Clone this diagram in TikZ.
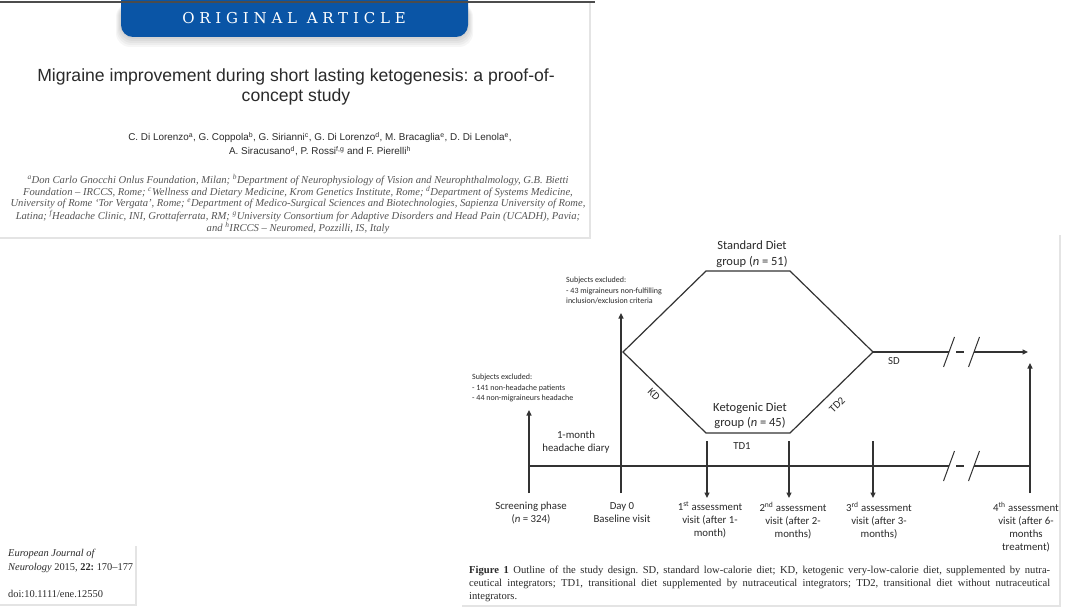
\documentclass[tikz,border=0pt]{standalone}
\usepackage{fontspec}
\setmainfont{Liberation Serif}
\newfontfamily\arialfont{Liberation Sans}
\newfontfamily\calibrifont{Carlito}
\newfontfamily\bannerfont[LetterSpace=32]{DejaVu Serif}
\usetikzlibrary{arrows.meta}
\definecolor{bannerblue}{HTML}{0A55A6}
\definecolor{linegray}{HTML}{333333}
\definecolor{framegray}{HTML}{E4E4E4}
\definecolor{textgray}{HTML}{2A2A2A}
\definecolor{affilgray}{HTML}{555555}
\frenchspacing

\begin{document}
\begin{tikzpicture}[
    x=1pt, y=-1pt,
    line/.style={draw=linegray, line width=1.2pt},
    arr/.style={line, -{Triangle[length=5.5pt, width=5pt]}},
    slash/.style={draw=linegray, line width=1pt},
    lbl/.style={font=\calibrifont\fontsize{10.8}{13}\selectfont, text=textgray, align=center, inner sep=0pt},
    grp/.style={font=\calibrifont\fontsize{12.5}{15.5}\selectfont, text=textgray, align=center, inner sep=0pt},
    excl/.style={font=\calibrifont\fontsize{8}{10.5}\selectfont, text=textgray, align=left, inner sep=0pt, anchor=north west},
    affil/.style={font=\itshape\fontsize{10.6}{12}\selectfont, text=affilgray, inner sep=0pt},
    journal/.style={font=\fontsize{10.4}{12}\selectfont, text=textgray, inner sep=0pt, anchor=base west}
]
    % 画布
    \useasboundingbox (0,0) rectangle (1084,610);
    \fill[white] (0,0) rectangle (1084,610);

    % 1. 文章标题区
    \foreach \s in {2,4,6,8,10}
        \fill[black, opacity=0.035, rounded corners=14pt] (121-\s/2,3) rectangle (468+\s/2,37+\s);
    \fill[bannerblue, rounded corners=12pt] (121,-20) rectangle (468,37);
    \node[font=\bannerfont\fontsize{15}{15}\selectfont, text=white, inner sep=0pt] (banner) at (294,18) {ORIGINAL ARTICLE};
    \draw[gray!60!black, line width=1.5pt] (0,2) -- (595,2);
    \draw[framegray, line width=1.5pt] (0,238) -- (590,238) -- (590,3);

    \node[font=\arialfont\fontsize{17.6}{19.5}\selectfont, text=textgray, align=center, inner sep=0pt] (title) at (296,87)
        {Migraine improvement during short lasting ketogenesis: a proof-of-\\concept study};
    \node[font=\arialfont\fontsize{9.9}{14}\selectfont, text=textgray, align=center, inner sep=0pt] (authors) at (320,144)
        {C. Di Lorenzo\textsuperscript{a}, G. Coppola\textsuperscript{b}, G. Sirianni\textsuperscript{c}, G. Di Lorenzo\textsuperscript{d}, M. Bracaglia\textsuperscript{e}, D. Di Lenola\textsuperscript{e},\\
         A. Siracusano\textsuperscript{d}, P. Rossi\textsuperscript{f,g} and F. Pierelli\textsuperscript{h}};

    \node[affil] (affilA) at (298,180) {\textsuperscript{a}Don Carlo Gnocchi Onlus Foundation, Milan; \textsuperscript{b}Department of Neurophysiology of Vision and Neurophthalmology, G.B. Bietti};
    \node[affil] (affilB) at (298,192) {Foundation -- IRCCS, Rome; \textsuperscript{c}Wellness and Dietary Medicine, Krom Genetics Institute, Rome; \textsuperscript{d}Department of Systems Medicine,};
    \node[affil] (affilC) at (298,204) {University of Rome `Tor Vergata', Rome; \textsuperscript{e}Department of Medico-Surgical Sciences and Biotechnologies, Sapienza University of Rome,};
    \node[affil] (affilD) at (298,216) {Latina; \textsuperscript{f}Headache Clinic, INI, Grottaferrata, RM; \textsuperscript{g}University Consortium for Adaptive Disorders and Head Pain (UCADH), Pavia;};
    \node[affil] (affilE) at (298,228) {and \textsuperscript{h}IRCCS -- Neuromed, Pozzilli, IS, Italy};

    % 2. 期刊信息框
    \draw[framegray, line width=1.5pt] (0,605) -- (136,605) -- (136,546);
    \node[journal] (journalA) at (8,556) {\textit{European Journal of}};
    \node[journal] (journalB) at (8,570) {\textit{Neurology} 2015, \textbf{22:} 170--177};
    \node[journal] (doi) at (8,597) {doi:10.1111/ene.12550};

    % 3. 图框
    \draw[framegray, line width=2pt] (462,606) -- (1060,606) -- (1060,235);

    % 六边形顶点
    \coordinate (L)  at (623,352);
    \coordinate (TL) at (706,271);
    \coordinate (TR) at (790,271);
    \coordinate (R)  at (873,352);
    \coordinate (BR) at (790,433);
    \coordinate (BL) at (706,433);
    \draw[line] (L) -- (TL) -- (TR) -- (R) -- (BR) -- (BL) -- cycle;

    \node[grp] (stdgroup) at (752,254) {Standard Diet\\group (\textit{n} = 51)};
    \node[grp] (ketogroup) at (750,416) {Ketogenic Diet\\group (\textit{n} = 45)};
    \node[lbl] (tdone) at (742,446) {TD1};
    \node[lbl, rotate=-45] (kd) at (654,394) {KD};
    \node[lbl, rotate=45] (tdtwo) at (837,405) {TD2};
    \node[lbl] (sd) at (894,361) {SD};

    % SD 箭头 (带断裂)
    \coordinate (sdbreakA) at (949,352);
    \coordinate (sdbreakB) at (974,352);
    \coordinate (sdend) at (1028,352);
    \draw[line] (R) -- (sdbreakA);
    \draw[line, dash pattern=on 0pt off 7pt on 8pt off 10pt] (sdbreakA) -- (sdbreakB);
    \draw[arr] (sdbreakB) -- (sdend);

    % 时间轴 (带断裂)
    \coordinate (tlstart) at (529,466);
    \coordinate (tlbreakA) at (949,466);
    \coordinate (tlbreakB) at (974,466);
    \coordinate (tlend) at (1030,466);
    \draw[line] (tlstart) -- (tlbreakA);
    \draw[line, dash pattern=on 0pt off 7pt on 8pt off 10pt] (tlbreakA) -- (tlbreakB);
    \draw[line] (tlbreakB) -- (tlend);

    % 断裂斜线
    \foreach \b in {sdbreakA, sdbreakB, tlbreakA, tlbreakB}
        \draw[slash] ([shift={(-5.5,15)}]\b) -- ([shift={(5.5,-15)}]\b);

    % 竖线与向上箭头
    \coordinate (scrbot) at (529,493);
    \coordinate (scrtop) at (529,410);
    \coordinate (daybot) at (621,493);
    \coordinate (daytop) at (621,313);
    \coordinate (endbot) at (1030,493);
    \coordinate (endtop) at (1030,363);
    \draw[arr] (scrbot) -- (scrtop);
    \draw[arr] (daybot) -- (daytop);
    \draw[arr] (endbot) -- (endtop);

    % 向下箭头 (评估访视)
    \foreach \x/\name in {707/one, 789/two, 873/three} {
        \coordinate (\name top) at (\x,441);
        \coordinate (\name tip) at (\x,498);
        \draw[arr] (\name top) -- (\name tip);
    }

    % 排除说明
    \node[excl] (exclscreen) at (472,374) {Subjects excluded:\\- 141 non-headache patients\\- 44 non-migraineurs headache};
    \node[excl] (exclday) at (566,277) {Subjects excluded:\\- 43 migraineurs non-fulfilling\\inclusion/exclusion criteria};
    \node[lbl] (diary) at (576,442) {1-month\\headache diary};

    % 时间点标签
    \node[lbl, anchor=north] (screen) at (531,502) {Screening phase\\(\textit{n} = 324)};
    \node[lbl, anchor=north] (dayzero) at (622,502) {Day 0\\Baseline visit};
    \node[lbl, anchor=north] (visitone) at (710,502) {1\textsuperscript{st} assessment\\visit (after 1-\\month)};
    \node[lbl, anchor=north] (visittwo) at (793,502) {2\textsuperscript{nd} assessment\\visit (after 2-\\months)};
    \node[lbl, anchor=north] (visitthree) at (879,502) {3\textsuperscript{rd} assessment\\visit (after 3-\\months)};
    \node[lbl, anchor=north] (visitfour) at (1026,502) {4\textsuperscript{th} assessment\\visit (after 6-\\months\\treatment)};

    % 4. 图注
    \node[anchor=north west, align=left, inner sep=0pt, font=\fontsize{10.6}{13}\selectfont, text=textgray] (caption) at (469,566)
        {\makebox[581pt][s]{\textbf{Figure 1} Outline of the study design. SD, standard low-calorie diet; KD, ketogenic very-low-calorie diet, supplemented by nutra-}\\
         \makebox[581pt][s]{ceutical integrators; TD1, transitional diet supplemented by nutraceutical integrators; TD2, transitional diet without nutraceutical}\\
         integrators.};
\end{tikzpicture}
\end{document}
